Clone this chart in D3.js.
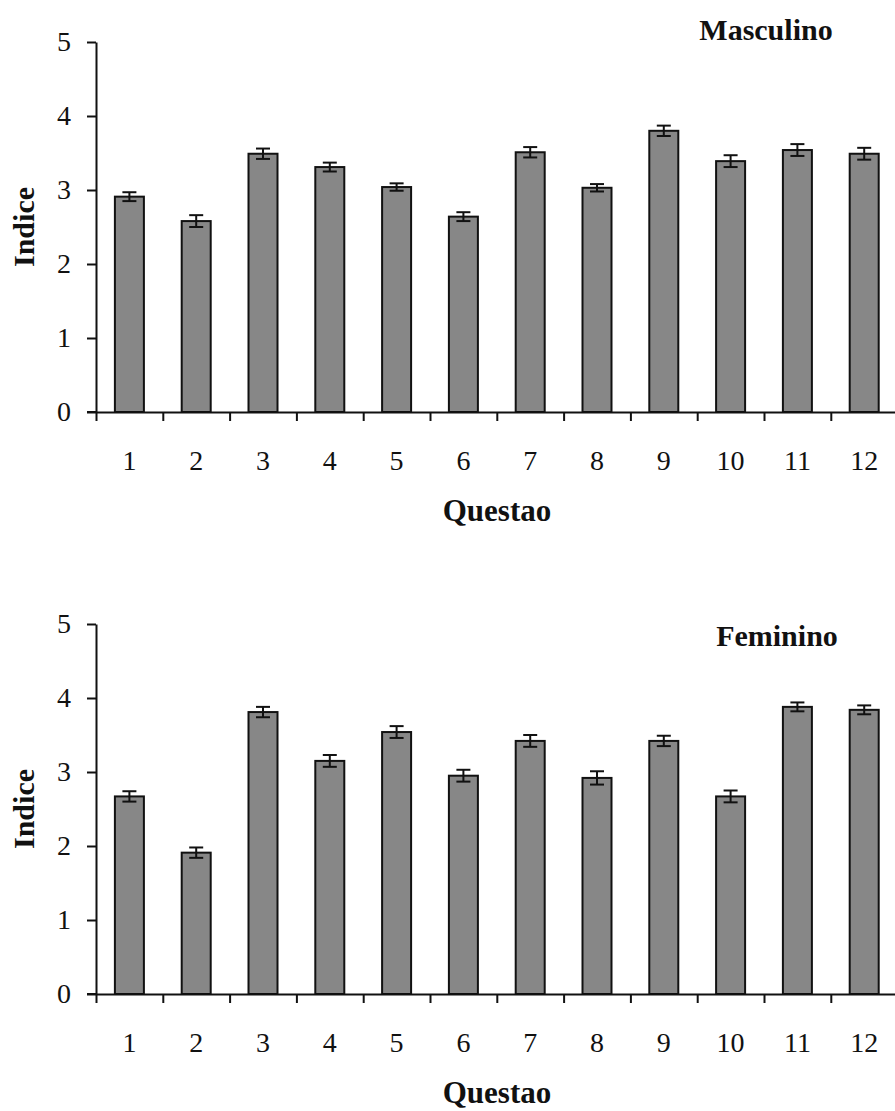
<!DOCTYPE html>
<html>
<head>
<meta charset="utf-8">
<script src="https://cdn.jsdelivr.net/npm/d3@7"></script>
<style>
  html, body { margin: 0; padding: 0; background: #ffffff; }
  svg { display: block; }
  text { font-family: "Liberation Serif", "Times New Roman", serif; fill: #111; }
</style>
</head>
<body>
<svg id="chart" width="895" height="1111"></svg>
<script>
// ---- data ----
const questoes = ["1","2","3","4","5","6","7","8","9","10","11","12"];
const yTicks = [0, 1, 2, 3, 4, 5];
const masculinoValues = [2.91, 2.58, 3.49, 3.31, 3.04, 2.64, 3.51, 3.03, 3.80, 3.39, 3.54, 3.49];
const masculinoErrors = [0.06, 0.08, 0.07, 0.06, 0.05, 0.06, 0.07, 0.05, 0.07, 0.08, 0.08, 0.08];
const femininoValues  = [2.67, 1.91, 3.81, 3.15, 3.54, 2.95, 3.42, 2.92, 3.42, 2.67, 3.88, 3.84];
const femininoErrors  = [0.07, 0.07, 0.07, 0.08, 0.08, 0.08, 0.08, 0.09, 0.07, 0.08, 0.06, 0.06];
const panelTitles = ["Masculino", "Feminino"];
const xTitle = "Questao";
const yTitle = "Indice";

const svg = d3.select("#chart");

const left = 96, step = 66.8;
const xBand = d3.scaleBand().domain(questoes).range([left, left + step * questoes.length]);
const xEdge = d3.scaleLinear().domain([0, questoes.length]).range([left, left + step * questoes.length]);
const barW = 29;

const panels = [
  { values: masculinoValues, errors: masculinoErrors, title: panelTitles[0], y0: 412, y5: 42, titleX: 766, titleY: 40 },
  { values: femininoValues,  errors: femininoErrors,  title: panelTitles[1], y0: 994, y5: 624, titleX: 777, titleY: 646 }
];

panels.forEach(p => {
  const g = svg.append("g");
  const y = d3.scaleLinear().domain([0, 5]).range([p.y0, p.y5]);

  // bars
  g.selectAll("rect.bar").data(p.values).join("rect")
    .attr("class", "bar")
    .attr("x", (d, i) => xBand(questoes[i]) + xBand.bandwidth() / 2 - barW / 2)
    .attr("y", d => y(d))
    .attr("width", barW)
    .attr("height", d => y(0) - y(d))
    .attr("fill", "#878787")
    .attr("stroke", "#111")
    .attr("stroke-width", 2);

  // error bars
  const eb = g.selectAll("g.err").data(p.values).join("g").attr("class", "err")
    .attr("stroke", "#111").attr("stroke-width", 2);
  eb.append("line")
    .attr("x1", (d, i) => xBand(questoes[i]) + xBand.bandwidth() / 2)
    .attr("x2", (d, i) => xBand(questoes[i]) + xBand.bandwidth() / 2)
    .attr("y1", (d, i) => y(d - p.errors[i]))
    .attr("y2", (d, i) => y(d + p.errors[i]));
  [1, -1].forEach(s => {
    eb.append("line")
      .attr("x1", (d, i) => xBand(questoes[i]) + xBand.bandwidth() / 2 - 7)
      .attr("x2", (d, i) => xBand(questoes[i]) + xBand.bandwidth() / 2 + 7)
      .attr("y1", (d, i) => y(d + s * p.errors[i]))
      .attr("y2", (d, i) => y(d + s * p.errors[i]));
  });

  // y axis
  const ya = g.append("g").attr("transform", `translate(${left},0)`)
    .call(d3.axisLeft(y).tickValues(yTicks).tickSize(9).tickSizeOuter(0).tickPadding(16).tickFormat(d3.format("d")));
  ya.select(".domain").attr("stroke", "#111").attr("stroke-width", 2);
  ya.selectAll(".tick line").attr("stroke", "#111").attr("stroke-width", 2);
  ya.selectAll(".tick text").style("font-size", "28px").attr("fill", "#111");

  // x axis: boundary ticks
  const xa = g.append("g").attr("transform", `translate(0,${p.y0})`)
    .call(d3.axisBottom(xEdge).tickValues(d3.range(0, questoes.length + 1)).tickSize(9).tickSizeOuter(0).tickFormat(""));
  xa.select(".domain").attr("stroke", "#111").attr("stroke-width", 2);
  xa.selectAll(".tick line").attr("stroke", "#111").attr("stroke-width", 2);
  g.append("line").attr("x1", left - 9).attr("x2", left).attr("y1", p.y0).attr("y2", p.y0)
    .attr("stroke", "#111").attr("stroke-width", 2);

  // x labels
  const xl = g.append("g").attr("transform", `translate(0,${p.y0})`)
    .call(d3.axisBottom(xBand).tickSize(0).tickPadding(38));
  xl.select(".domain").remove();
  xl.selectAll(".tick text").style("font-size", "28px").attr("fill", "#111");

  // titles
  g.append("text").attr("x", 497).attr("y", p.y0 + 109)
    .attr("text-anchor", "middle").style("font-size", "31px").style("font-weight", "bold").text(xTitle);
  g.append("text").attr("transform", `translate(34,${(p.y0 + p.y5) / 2}) rotate(-90)`)
    .attr("text-anchor", "middle").style("font-size", "30px").style("font-weight", "bold").text(yTitle);
  g.append("text").attr("x", p.titleX).attr("y", p.titleY)
    .attr("text-anchor", "middle").style("font-size", "30px").style("font-weight", "bold").text(p.title);
});
</script>
</body>
</html>
